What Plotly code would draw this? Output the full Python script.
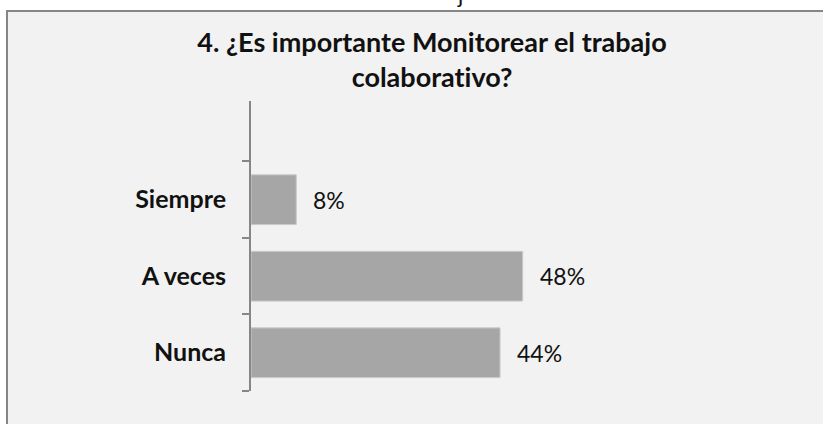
import plotly.graph_objects as go

categories = ["Nunca", "A veces", "Siempre"]
values = [0.44, 0.48, 0.08]
labels = ["44%", "48%", "8%"]
title_text = "4. ¿Es importante Monitorear el trabajo<br>colaborat\u200civo?"

W, H = 823, 424
left, top, bottom = 251, 101, H - 391
right = 23
plot_w = W - left - right
plot_h = H - top - bottom


def px_x(p):
    # screen x pixel -> paper coordinate
    return (p - left) / plot_w


def px_y(p):
    # screen y pixel (from top) -> paper coordinate
    return (H - bottom - p) / plot_h


fig = go.Figure()
fig.add_trace(go.Bar(
    y=categories,
    x=values,
    orientation="h",
    width=0.65,
    marker=dict(color="#a6a6a6", line=dict(color="#c9c9c9", width=1)),
    hoverinfo="skip",
))

# data labels to the right of each bar
for cat, val, lab in zip(categories, values, labels):
    fig.add_annotation(
        x=val, y=cat, text=lab, showarrow=False,
        xanchor="left", xshift=15,
        font=dict(family="Lato", size=23, color="#111111"),
    )

# chart frame (runs past the right/bottom edge like the cropped source)
fig.add_shape(
    type="rect", xref="paper", yref="paper", layer="below",
    x0=px_x(7), x1=px_x(W + 30),
    y0=px_y(H + 30), y1=px_y(11),
    fillcolor="#f2f2f2", line=dict(color="#868686", width=2),
)

# clipped glyph from text above the chart
fig.add_annotation(
    xref="paper", yref="paper",
    x=px_x(460), y=px_y(-5),
    text="j", showarrow=False, xanchor="center", yanchor="middle",
    font=dict(family="Lato", size=22, color="#111111"),
)

fig.update_layout(
    width=W, height=H,
    margin=dict(l=left, r=right, t=top, b=bottom),
    paper_bgcolor="white",
    plot_bgcolor="rgba(0,0,0,0)",
    showlegend=False,
    title=dict(
        text=title_text, xref="container", yref="container",
        x=432 / W, xanchor="center", y=1 - 52 / H, yanchor="top",
        font=dict(family="Lato", size=27, color="#111111", weight="bold"),
    ),
    xaxis=dict(range=[0, plot_w / 566], visible=False),
    yaxis=dict(
        type="category", categoryorder="array", categoryarray=categories,
        range=[-0.5, 3.29],
        showline=True, linecolor="#868686", linewidth=2,
        ticks="outside", ticklen=7, tickcolor="#868686", tickwidth=2,
        tickson="boundaries", ticklabelstandoff=18,
        showgrid=False, zeroline=False,
        tickfont=dict(family="Lato", size=25, color="#111111", weight="bold"),
    ),
)

fig.write_html(
    "out.html",
    config={"displayModeBar": False},
    post_script="document.body.style.margin='0';",
)
